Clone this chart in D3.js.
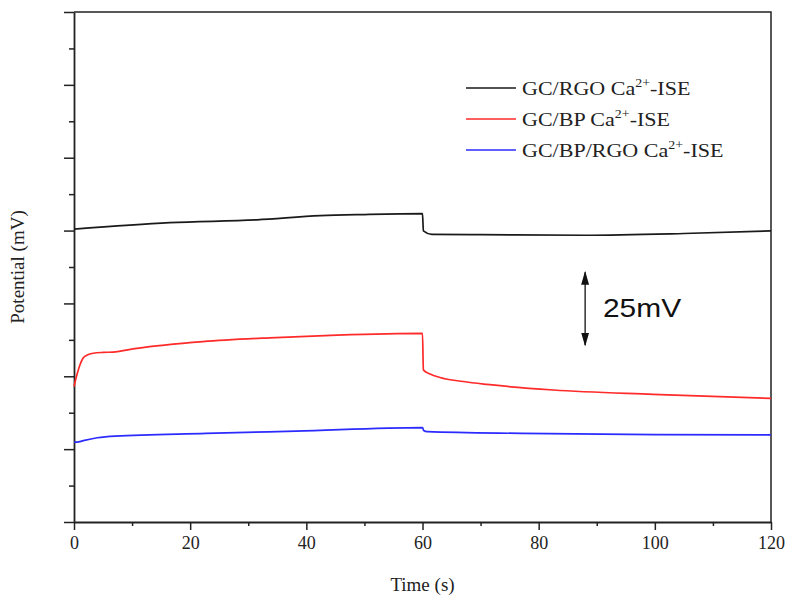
<!DOCTYPE html>
<html>
	<head>
		<meta charset="utf-8">
		<title>Potential vs time</title>
		<style>
			body { margin: 0; background: #fff; }
		</style>
	</head>
	<body>
		<script src="https://d3js.org/d3.v7.min.js"></script>
		<div id="wrapper"></div>
	</body>
</html>

<script>
	// data (time in s, potential in mV, relative offset)
	var series_names = ["GC/RGO", "GC/BP", "GC/BP/RGO"];
	var series_colors = ["#1a1a1a", "#ff2a2a", "#2b2bff"];

	var time_rgo = [0, 16.5, 31.5, 42.4, 50, 60, 60.15, 61.6, 70, 88, 105, 120];
	var pot_rgo = [100.5, 102.7, 103.7, 105.1, 105.5, 105.8, 99.9, 98.7, 98.6, 98.4, 99.0, 99.9];

	var time_bp = [0, 0.5, 1, 1.55, 2.3, 3.3, 5, 6.7, 10.8, 22.2, 33.7, 45.3, 60, 60.15, 61.3, 63, 67, 71.1, 82.5, 99.7, 120];
	var pot_bp = [46.5, 50.5, 53.8, 56.2, 57.3, 57.9, 58.2, 58.3, 59.6, 61.9, 63.2, 64.1, 64.7, 52.2, 50.8, 49.6, 48.2, 47.2, 45.3, 43.8, 42.4];

	var time_bprgo = [0, 0.8, 1.6, 4, 7.1, 22.7, 38.2, 60, 60.2, 60.8, 77.1, 100, 120];
	var pot_bprgo = [27.4, 27.5, 27.9, 28.9, 29.5, 30.4, 31.2, 32.4, 31.4, 31.0, 30.4, 30.0, 29.9];

	var x_ticks = [0, 20, 40, 60, 80, 100, 120];
	var x_minor = [10, 30, 50, 70, 90, 110];
	var y_ticks = [0, 25, 50, 75, 100, 125, 150, 175];
	var y_minor = [12.5, 37.5, 62.5, 87.5, 112.5, 137.5, 162.5];

	// scale bar: from 60.7 mV to 85.7 mV at t = 88 s
	var bar_time = 88;
	var bar_from = 60.7;
	var bar_span = 25;

	var w = 790;
	var h = 599;
	var m_left = 74, m_right = 771, m_top = 12, m_bottom = 522;

	var svg = d3.select("#wrapper")
				.append("svg")
				.attr("width", w)
				.attr("height", h)
				.style("display", "block");

	var x = d3.scaleLinear().domain([0, 120]).range([m_left, m_right]);
	var y = d3.scaleLinear().domain([0, 175]).range([m_bottom, m_top]);

	// frame (top and right)
	svg.append("path")
		.attr("d", "M" + m_left + "," + m_top + "H" + m_right + "V" + m_bottom)
		.style("fill", "none")
		.style("stroke", "#222")
		.style("stroke-width", 1.5);

	// x axis
	var xAxis = svg.append("g")
		.attr("transform", "translate(0," + m_bottom + ")")
		.call(d3.axisBottom(x).tickValues(x_ticks).tickSize(8).tickPadding(6).tickSizeOuter(0));
	xAxis.selectAll("line").style("stroke-width", 1.5).style("stroke", "#222");
	xAxis.select(".domain").style("stroke-width", 1.8).style("stroke", "#222");
	xAxis.selectAll("text")
		.style("font-family", "'Liberation Serif', 'Times New Roman', serif")
		.style("font-size", "18px")
		.style("fill", "#222");
	svg.append("g")
		.attr("transform", "translate(0," + m_bottom + ")")
		.call(d3.axisBottom(x).tickValues(x_minor).tickSize(4).tickFormat("").tickSizeOuter(0))
		.call(function(g) { g.select(".domain").remove(); })
		.selectAll("line").style("stroke-width", 1.5).style("stroke", "#222");

	// y axis (no labels)
	var yAxis = svg.append("g")
		.attr("transform", "translate(" + m_left + ",0)")
		.call(d3.axisLeft(y).tickValues(y_ticks).tickSize(10).tickFormat("").tickSizeOuter(0));
	yAxis.selectAll("line").style("stroke-width", 1.5).style("stroke", "#222");
	yAxis.select(".domain").style("stroke-width", 1.8).style("stroke", "#222");
	svg.append("g")
		.attr("transform", "translate(" + m_left + ",0)")
		.call(d3.axisLeft(y).tickValues(y_minor).tickSize(5).tickFormat("").tickSizeOuter(0))
		.call(function(g) { g.select(".domain").remove(); })
		.selectAll("line").style("stroke-width", 1.5).style("stroke", "#222");

	// axis titles
	svg.append("text")
		.attr("x", (m_left + m_right) / 2)
		.attr("y", 591)
		.attr("text-anchor", "middle")
		.style("font-family", "'Liberation Serif', 'Times New Roman', serif")
		.style("font-size", "19px")
		.style("fill", "#222")
		.text("Time (s)");
	svg.append("text")
		.attr("transform", "translate(24," + 267 + ") rotate(-90)")
		.attr("text-anchor", "middle")
		.style("font-family", "'Liberation Serif', 'Times New Roman', serif")
		.style("font-size", "19px")
		.style("fill", "#222")
		.text("Potential (mV)");

	// curves
	var line = d3.line()
		.x(function(d) { return x(d[0]); })
		.y(function(d) { return y(d[1]); })
		.curve(d3.curveMonotoneX);

	var all_series = [
		d3.zip(time_rgo, pot_rgo),
		d3.zip(time_bp, pot_bp),
		d3.zip(time_bprgo, pot_bprgo)
	];

	svg.selectAll(".curve")
		.data(all_series)
		.enter()
		.append("path")
		.attr("class", "curve")
		.attr("d", line)
		.style("fill", "none")
		.style("stroke", function(d, i) { return series_colors[i]; })
		.style("stroke-width", 1.7);

	// legend (text in the original is a bit stretched sideways)
	var legend = svg.selectAll(".legend")
		.data(series_names)
		.enter()
		.append("g")
		.attr("class", "legend")
		.attr("transform", function(d, i) {
			return "translate(466," + (88 + i * 31) + ")";
		});
	legend.append("line")
		.attr("x1", 0)
		.attr("x2", 50)
		.style("stroke", function(d, i) { return series_colors[i]; })
		.style("stroke-width", 1.7);
	var label = legend.append("text")
		.attr("transform", "translate(56,7) scale(1.16,1)")
		.style("font-family", "'Liberation Serif', 'Times New Roman', serif")
		.style("font-size", "19px")
		.style("fill", "#222");
	label.append("tspan").text(function(d) { return d + " Ca"; });
	label.append("tspan").attr("dy", -8).style("font-size", "12px").text("2+");
	label.append("tspan").attr("dy", 8).text("-ISE");

	// 25 mV scale arrow
	var defs = svg.append("defs");
	defs.append("marker")
		.attr("id", "head")
		.attr("viewBox", "0 0 10 10")
		.attr("refX", 9)
		.attr("refY", 5)
		.attr("markerWidth", 14)
		.attr("markerHeight", 8)
		.attr("markerUnits", "userSpaceOnUse")
		.attr("orient", "auto-start-reverse")
		.attr("preserveAspectRatio", "none")
		.append("path")
		.attr("d", "M0,0L10,5L0,10Z")
		.style("fill", "#111");
	svg.append("line")
		.attr("x1", x(bar_time))
		.attr("x2", x(bar_time))
		.attr("y1", y(bar_from))
		.attr("y2", y(bar_from + bar_span))
		.attr("marker-start", "url(#head)")
		.attr("marker-end", "url(#head)")
		.style("stroke", "#111")
		.style("stroke-width", 1.3);
	svg.append("text")
		.attr("transform", "translate(603,317) scale(1.15,1)")
		.style("font-family", "'Liberation Sans', Arial, sans-serif")
		.style("font-size", "26px")
		.style("fill", "#111")
		.text(bar_span + "mV");
</script>
